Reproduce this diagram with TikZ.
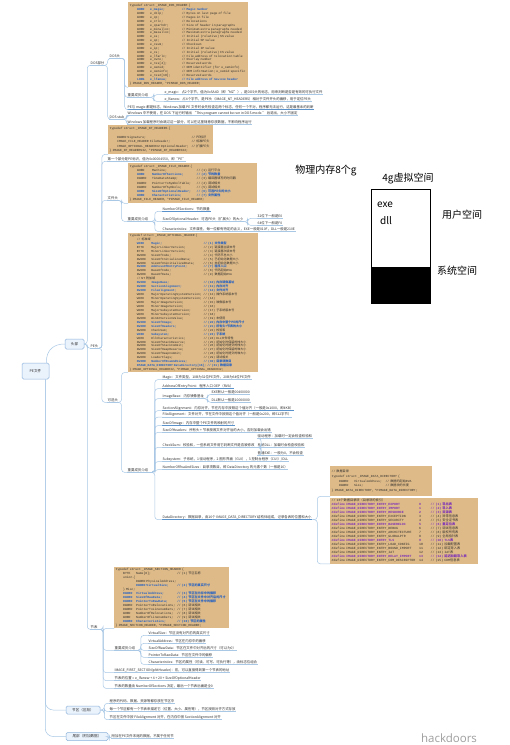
\documentclass[tikz,border=0pt]{standalone}
\usepackage{fontspec}
\setmainfont{Noto Sans CJK SC}
\setmonofont{Liberation Mono}
\newfontfamily\zhfont{Noto Sans CJK SC}
\newfontfamily\markfont{Open Sans}

\definecolor{linkc}{HTML}{A9C8E6}
\definecolor{linkd}{HTML}{5A92CC}
\definecolor{codefill}{HTML}{DEBA88}
\definecolor{cblue}{HTML}{1F5FC4}
\definecolor{cpurple}{HTML}{7A2FB8}
\definecolor{ctext}{HTML}{2E2E2E}
\definecolor{rootfill}{HTML}{EAF2FC}
\definecolor{rootdraw}{HTML}{8DB3DB}

% code listing helpers
\newcommand\ZH[1]{{\zhfont #1}}
\newcommand\HLB{\color{cblue}\bfseries}
\newcommand\HLP{\color{cpurple}\bfseries}
\newcommand\cwA{4.2em}
\newcommand\cwB{10.2em}
\newcommand\CDL[3]{\mbox{\hspace*{2.4em}\makebox[\cwA][l]{#1}\makebox[\cwB][l]{#2}#3}}
\newcommand\CDN[2]{\mbox{\hspace*{2.4em}\makebox[\cwA][l]{#1}#2}}
\newcommand\CDW[2]{\mbox{\hspace*{2.4em}#1 #2}}
\newcommand\CDD[3]{\mbox{\#define \makebox[22.8em][l]{#1}\makebox[3.6em][l]{#2}#3}}

\tikzset{
  conn/.style={draw=linkc, line width=0.5pt, rounded corners=3pt},
  uline/.style={draw=linkc, line width=0.5pt},
  ulinedark/.style={draw=linkd, line width=0.7pt},
  topic/.style={font=\fontsize{3.4}{4}\selectfont, text=ctext, inner xsep=0.5pt, inner ysep=0.6pt, anchor=west},
  mainbox/.style={draw=rootdraw, fill=rootfill, rounded corners=1.5pt, line width=0.5pt,
    font=\fontsize{3.6}{4}\selectfont, text=ctext, inner sep=0pt},
  codebox/.style={fill=codefill, anchor=north west, align=left, inner xsep=1.5pt, inner ysep=1pt, text=ctext},
  bigtext/.style={font=\fontsize{10}{12}\selectfont, text=black, inner sep=0pt},
}

% topic with underline, and elbow connector between topics
\newcommand\TP[5][uline]{\node[topic] (#2) at (#3,#4) {#5};\draw[#1] (#2.south west) -- (#2.south east);}
\newcommand\LK[3]{\draw[conn] (#1) -- ++(#3,0) |- (#2);}

\begin{document}
\catcode`\_=12
\begin{tikzpicture}[x=1pt,y=-1pt]
\fill[white] (0,0) rectangle (510,745);
\useasboundingbox (0,0) rectangle (510,745);

% ---------- main branches ----------
\node[mainbox, minimum width=27pt, minimum height=16pt] (root) at (35.5,371) {PE文件};
\node[mainbox, minimum width=19pt, minimum height=10pt] (head) at (74.5,344) {头部};
\node[mainbox, minimum width=34pt, minimum height=8pt] (sec) at (83,710) {节区（区段）};
\node[mainbox, minimum width=42pt, minimum height=8pt] (tail) at (87,736.5) {尾部（附加数据）};
\draw[conn] ([xshift=-3pt]root.north east) .. controls +(0,-14) and +(-10,0) .. (head.west);
\draw[conn, rounded corners=8pt] ([xshift=-4pt]root.south east) |- (sec.west);
\draw[conn, rounded corners=8pt] ([xshift=-4pt]root.south east) |- (tail.west);

\TP{dospart}{90}{63}{DOS部分}
\TP{pehead}{90}{346}{PE头}
\TP{sectab}{90}{627}{节表}
\LK{head.east}{dospart.south west}{3}
\LK{head.east}{pehead.south west}{3}
\LK{head.east}{sectab.south west}{3}

% ---------- DOS part ----------
\TP{doshdr}{109}{56}{DOS头}
\TP{stub}{109}{117}{DOS stub}
\LK{dospart.south east}{doshdr.south west}{2.5}
\LK{dospart.south east}{stub.south west}{2.5}

\renewcommand\cwA{4.2em}\renewcommand\cwB{10.2em}
\node[codebox, text width=117pt, minimum height=85pt, font=\ttfamily\fontsize{3.1}{3.86}\selectfont] (dosbox) at (128,2) {%
typedef struct _IMAGE_DOS_HEADER \{\\
{\HLB\CDL{WORD}{e_magic;}{// Magic number}}\\
\CDL{WORD}{e_cblp;}{// Bytes on last page of file}\\
\CDL{WORD}{e_cp;}{// Pages in file}\\
\CDL{WORD}{e_crlc;}{// Relocations}\\
\CDL{WORD}{e_cparhdr;}{// Size of header in paragraphs}\\
\CDL{WORD}{e_minalloc;}{// Minimum extra paragraphs needed}\\
\CDL{WORD}{e_maxalloc;}{// Maximum extra paragraphs needed}\\
\CDL{WORD}{e_ss;}{// Initial (relative) SS value}\\
\CDL{WORD}{e_sp;}{// Initial SP value}\\
\CDL{WORD}{e_csum;}{// Checksum}\\
\CDL{WORD}{e_ip;}{// Initial IP value}\\
\CDL{WORD}{e_cs;}{// Initial (relative) CS value}\\
\CDL{WORD}{e_lfarlc;}{// File address of relocation table}\\
\CDL{WORD}{e_ovno;}{// Overlay number}\\
\CDL{WORD}{e_res[4];}{// Reserved words}\\
\CDL{WORD}{e_oemid;}{// OEM identifier (for e_oeminfo)}\\
\CDL{WORD}{e_oeminfo;}{// OEM information; e_oemid specific}\\
\CDL{WORD}{e_res2[10];}{// Reserved words}\\
{\HLB\CDL{LONG}{e_lfanew;}{// File address of new exe header}}\\
\} IMAGE_DOS_HEADER, *PIMAGE_DOS_HEADER;};

\TP{dosimp}{127}{95}{重要成员介绍}
\TP[ulinedark]{dosnote}{127}{107}{PE与 magic 都是标志，Windows 加载 PE 文件时会先检查这两个标志，任何一个不对，程序都无法运行，这是最基本的判断}
\LK{doshdr.south east}{dosbox.south west}{4}
\LK{doshdr.south east}{dosimp.south west}{4}
\LK{doshdr.south east}{dosnote.south west}{4}

\TP{emagic}{164}{92}{e_magic：占2个字节，值为0x5A4D（即“MZ”），是DOS头的标志，用来判断是否是有效的可执行文件}
\TP{elfanew}{164}{99}{e_lfanew：占4个字节，是PE头（IMAGE_NT_HEADERS）相对于文件开头的偏移，用于定位PE头}
\LK{dosimp.south east}{emagic.south west}{5}
\LK{dosimp.south east}{elfanew.south west}{5}

\TP{stubA}{127}{113}{Windows 中不使用，在 DOS 下运行时输出 “This program cannot be run in DOS mode.” 后退出，大小不固定}
\TP{stubB}{127}{122}{Windows 加载程序时会跳过这一部分，可以在这里随意存放数据，不影响程序运行}
\LK{stub.south east}{stubA.south west}{1.5}
\LK{stub.south east}{stubB.south west}{1.5}

% ---------- PE header ----------
\renewcommand\cwA{24em}
\node[codebox, text width=102pt, minimum height=29pt, font=\ttfamily\fontsize{3.1}{4.4}\selectfont] (ntbox) at (108,125) {%
typedef struct _IMAGE_NT_HEADERS \{\\
\mbox{}\\
\CDN{DWORD Signature;}{// \ZH{PE标识}}\\
\CDN{IMAGE_FILE_HEADER FileHeader;}{// \ZH{标准PE头}}\\
\CDN{IMAGE_OPTIONAL_HEADER32 OptionalHeader;}{// \ZH{扩展PE头}}\\
\} IMAGE_NT_HEADERS32, *PIMAGE_NT_HEADERS32;};

\TP{ntsig}{107}{159}{第一个部分是PE标识，值为0x00004550，即“PE”}
\TP{filehdr}{107}{198}{文件头}
\TP{opthdr}{107}{400}{可选头}
\LK{pehead.south east}{ntbox.south west}{3}
\LK{pehead.south east}{ntsig.south west}{3}
\LK{pehead.south east}{filehdr.south west}{3}
\LK{pehead.south east}{opthdr.south west}{3}

% file header
\renewcommand\cwA{4.8em}\renewcommand\cwB{14.4em}
\node[codebox, text width=126pt, minimum height=40pt, font=\ttfamily\fontsize{3.1}{4.2}\selectfont] (filebox) at (128,163) {%
typedef struct _IMAGE_FILE_HEADER \{\\
\CDL{WORD}{Machine;}{// (1) \ZH{运行平台}}\\
{\HLB\CDL{WORD}{NumberOfSections;}{// (2) \ZH{节的数量}}}\\
\CDL{DWORD}{TimeDateStamp;}{// (3) \ZH{编译器填写的时间戳}}\\
\CDL{DWORD}{PointerToSymbolTable;}{// (4) \ZH{调试相关}}\\
\CDL{DWORD}{NumberOfSymbols;}{// (5) \ZH{调试相关}}\\
{\HLB\CDL{WORD}{SizeOfOptionalHeader;}{// (6) \ZH{可选PE头的大小}}}\\
{\HLB\CDL{WORD}{Characteristics;}{// (7) \ZH{文件属性}}}\\
\} IMAGE_FILE_HEADER, *PIMAGE_FILE_HEADER;};

\TP{fileimp}{127}{219}{重要成员介绍}
\LK{filehdr.south east}{filebox.south west}{3}
\LK{filehdr.south east}{fileimp.south west}{3}

\TP[ulinedark]{nsec}{162}{209}{NumberOfSections：节的数量}
\TP{soh}{162}{219}{SizeOfOptionalHeader：可选PE头（扩展头）的大小}
\TP{chr}{162}{229}{Characteristics：文件属性，每一位都有特定的含义，EXE一般是010F，DLL一般是210E}
\LK{fileimp.south east}{nsec.south west}{6}
\LK{fileimp.south east}{soh.south west}{6}
\LK{fileimp.south east}{chr.south west}{6}
\TP{soh32}{257}{216}{32位下一般是E0}
\TP{soh64}{257}{223}{64位下一般是F0}
\LK{soh.south east}{soh32.south west}{4}
\LK{soh.south east}{soh64.south west}{4}

% optional header
\renewcommand\cwA{4.8em}\renewcommand\cwB{17.4em}
\node[codebox, text width=127pt, minimum height=139pt, font=\ttfamily\fontsize{3.0}{3.95}\selectfont] (optbox) at (128,233) {%
typedef struct _IMAGE_OPTIONAL_HEADER \{\\
\mbox{\hspace*{2.4em}// \ZH{标准域}}\\
{\HLB\CDL{WORD}{Magic;}{// (1) \ZH{文件类型}}}\\
\CDL{BYTE}{MajorLinkerVersion;}{// (2) \ZH{链接器主版本号}}\\
\CDL{BYTE}{MinorLinkerVersion;}{// (3) \ZH{链接器次版本号}}\\
\CDL{DWORD}{SizeOfCode;}{// (4) \ZH{代码节总大小}}\\
\CDL{DWORD}{SizeOfInitializedData;}{// (5) \ZH{已初始化数据大小}}\\
\CDL{DWORD}{SizeOfUninitializedData;}{// (6) \ZH{未初始化数据大小}}\\
{\HLB\CDL{DWORD}{AddressOfEntryPoint;}{// (7) \ZH{程序入口}}}\\
\CDL{DWORD}{BaseOfCode;}{// (8) \ZH{代码起始}RVA}\\
\CDL{DWORD}{BaseOfData;}{// (9) \ZH{数据起始}RVA}\\
\mbox{\hspace*{2.4em}// NT \ZH{附加域}}\\
{\HLB\CDL{DWORD}{ImageBase;}{// (10) \ZH{内存镜像基址}}}\\
{\HLB\CDL{DWORD}{SectionAlignment;}{// (11) \ZH{内存对齐}}}\\
{\HLB\CDL{DWORD}{FileAlignment;}{// (12) \ZH{文件对齐}}}\\
\CDL{WORD}{MajorOperatingSystemVersion;}{// (13) \ZH{操作系统版本号}}\\
\CDL{WORD}{MinorOperatingSystemVersion;}{// (14)}\\
\CDL{WORD}{MajorImageVersion;}{// (15) \ZH{映像版本号}}\\
\CDL{WORD}{MinorImageVersion;}{// (16)}\\
\CDL{WORD}{MajorSubsystemVersion;}{// (17) \ZH{子系统版本号}}\\
\CDL{WORD}{MinorSubsystemVersion;}{// (18)}\\
\CDL{DWORD}{Win32VersionValue;}{// (19) \ZH{未使用}}\\
{\HLB\CDL{DWORD}{SizeOfImage;}{// (20) \ZH{内存中整个PE的尺寸}}}\\
{\HLB\CDL{DWORD}{SizeOfHeaders;}{// (21) \ZH{所有头+节表的大小}}}\\
\CDL{DWORD}{CheckSum;}{// (22) \ZH{校验和}}\\
{\HLB\CDL{WORD}{Subsystem;}{// (23) \ZH{子系统}}}\\
\CDL{WORD}{DllCharacteristics;}{// (24) DLL\ZH{文件特性}}\\
\CDL{DWORD}{SizeOfStackReserve;}{// (25) \ZH{初始化时保留的栈大小}}\\
\CDL{DWORD}{SizeOfStackCommit;}{// (26) \ZH{初始化时提交的栈大小}}\\
\CDL{DWORD}{SizeOfHeapReserve;}{// (27) \ZH{初始化时保留的堆大小}}\\
\CDL{DWORD}{SizeOfHeapCommit;}{// (28) \ZH{初始化时提交的堆大小}}\\
\CDL{DWORD}{LoaderFlags;}{// (29) \ZH{调试相关}}\\
{\HLB\CDL{DWORD}{NumberOfRvaAndSizes;}{// (30) \ZH{目录项数目}}}\\
{\HLB\CDW{IMAGE_DATA_DIRECTORY DataDirectory[16];}{// (31) \ZH{数据目录}}}\\
\} IMAGE_OPTIONAL_HEADER32, *PIMAGE_OPTIONAL_HEADER32;};

\TP{optimp}{127}{470}{重要成员介绍}
\LK{opthdr.south east}{optbox.south west}{3}
\LK{opthdr.south east}{optimp.south west}{3}

\TP{o1}{162}{377}{Magic：文件类型，10B为32位PE文件，20B为64位PE文件}
\TP[ulinedark]{o2}{162}{386}{AddressOfEntryPoint：程序入口 OEP（RVA）}
\TP{o3}{162}{396}{ImageBase：内存镜像基址}
\TP[ulinedark]{o4}{162}{408}{SectionAlignment：内存对齐，节在内存中按照这个值对齐（一般是0x1000，即4KB）}
\TP{o5}{162}{414.5}{FileAlignment：文件对齐，节在文件中按照这个值对齐（一般是0x200，即512字节）}
\TP[ulinedark]{o6}{162}{423}{SizeOfImage：内存中整个PE文件的映射的尺寸}
\TP{o7}{162}{430}{SizeOfHeaders：所有头 + 节表按照文件对齐后的大小，否则加载会出错}
\TP{o8}{162}{445}{CheckSum：校验和，一些系统文件用它判断文件是否被修改}
\TP{o9}{162}{459}{Subsystem：子系统，1 驱动程序，2 图形界面（GUI），3 控制台程序（CUI）/DLL}
\TP{o10}{162}{467}{NumberOfRvaAndSizes：目录项数目，即 DataDirectory 的元素个数（一般是16）}
\TP[ulinedark]{o11}{162}{517}{DataDirectory：数据目录，由16个 IMAGE_DATA_DIRECTORY 结构体组成，记录各表的位置和大小}
\foreach \k in {o1,o2,o3,o4,o5,o6,o7,o8,o9,o10,o11} {\LK{optimp.south east}{\k.south west}{6}}

\TP{o3a}{211}{392}{EXE默认一般是00400000}
\TP{o3b}{211}{400}{DLL默认一般是10000000}
\LK{o3.south east}{o3a.south west}{3}
\LK{o3.south east}{o3b.south west}{3}

\TP{o8a}{257}{436}{驱动程序：加载时一定会检查校验和}
\TP{o8b}{257}{445}{系统DLL：加载时会检查校验和}
\TP{o8c}{257}{453}{普通EXE：一般为0，不会检查}
\LK{o8.south east}{o8a.south west}{6}
\LK{o8.south east}{o8b.south west}{6}
\LK{o8.south east}{o8c.south west}{6}

% data directory
\renewcommand\cwA{4.8em}\renewcommand\cwB{10.2em}
\node[codebox, text width=99pt, minimum height=30pt, font=\ttfamily\fontsize{3.1}{4.6}\selectfont] (ddbox) at (330,466) {%
// \ZH{数据目录}\\
typedef struct _IMAGE_DATA_DIRECTORY \{\\
\CDL{DWORD}{VirtualAddress;}{// \ZH{数据的起始}RVA}\\
\CDL{DWORD}{Size;}{// \ZH{数据块的长度}}\\
\} IMAGE_DATA_DIRECTORY, *PIMAGE_DATA_DIRECTORY;};

\node[codebox, text width=145pt, minimum height=65pt, font=\ttfamily\fontsize{3.2}{4.0}\selectfont] (dirbox) at (330,498) {%
// 16\ZH{个数据目录项（目录项的索引）}\\
{\HLP\CDD{IMAGE_DIRECTORY_ENTRY_EXPORT}{0}{// (1) \ZH{导出表}}}\\
{\HLP\CDD{IMAGE_DIRECTORY_ENTRY_IMPORT}{1}{// (2) \ZH{导入表}}}\\
{\HLP\CDD{IMAGE_DIRECTORY_ENTRY_RESOURCE}{2}{// (3) \ZH{资源表}}}\\
\CDD{IMAGE_DIRECTORY_ENTRY_EXCEPTION}{3}{// (4) \ZH{异常信息表}}\\
\CDD{IMAGE_DIRECTORY_ENTRY_SECURITY}{4}{// (5) \ZH{安全证书表}}\\
{\HLP\CDD{IMAGE_DIRECTORY_ENTRY_BASERELOC}{5}{// (6) \ZH{重定位表}}}\\
\CDD{IMAGE_DIRECTORY_ENTRY_DEBUG}{6}{// (7) \ZH{调试信息表}}\\
\CDD{IMAGE_DIRECTORY_ENTRY_ARCHITECTURE}{7}{// (8) \ZH{版权所有表}}\\
\CDD{IMAGE_DIRECTORY_ENTRY_GLOBALPTR}{8}{// (9) \ZH{全局指针表}}\\
{\HLP\CDD{IMAGE_DIRECTORY_ENTRY_TLS}{9}{// (10) TLS\ZH{表}}}\\
\CDD{IMAGE_DIRECTORY_ENTRY_LOAD_CONFIG}{10}{// (11) \ZH{加载配置表}}\\
\CDD{IMAGE_DIRECTORY_ENTRY_BOUND_IMPORT}{11}{// (12) \ZH{绑定导入表}}\\
\CDD{IMAGE_DIRECTORY_ENTRY_IAT}{12}{// (13) IAT\ZH{表}}\\
{\HLP\CDD{IMAGE_DIRECTORY_ENTRY_DELAY_IMPORT}{13}{// (14) \ZH{延迟加载导入表}}}\\
\CDD{IMAGE_DIRECTORY_ENTRY_COM_DESCRIPTOR}{14}{// (15) COM\ZH{信息表}}};
\LK{o11.south east}{ddbox.south west}{5}
\LK{o11.south east}{dirbox.south west}{5}

% ---------- section table ----------
\renewcommand\cwA{4.2em}\renewcommand\cwB{13.2em}
\node[codebox, text width=112pt, minimum height=61pt, font=\ttfamily\fontsize{3.1}{4.0}\selectfont] (secbox) at (114,567) {%
typedef struct _IMAGE_SECTION_HEADER \{\\
\CDL{BYTE}{Name[8];}{// (1) \ZH{节区名称}}\\
\CDL{union \{}{}{}\\
\CDL{}{DWORD PhysicalAddress;}{}\\
{\HLB\CDL{}{DWORD VirtualSize;}{// (2) \ZH{节区的真实尺寸}}}\\
\CDL{\} Misc;}{}{}\\
{\HLB\CDL{DWORD}{VirtualAddress;}{// (3) \ZH{节区在内存中的偏移}}}\\
{\HLB\CDL{DWORD}{SizeOfRawData;}{// (4) \ZH{节区在文件中对齐后的尺寸}}}\\
{\HLB\CDL{DWORD}{PointerToRawData;}{// (5) \ZH{节区在文件中的偏移}}}\\
\CDL{DWORD}{PointerToRelocations;}{// (6) \ZH{调试相关}}\\
\CDL{DWORD}{PointerToLinenumbers;}{// (7) \ZH{调试相关}}\\
\CDL{WORD}{NumberOfRelocations;}{// (8) \ZH{调试相关}}\\
\CDL{WORD}{NumberOfLinenumbers;}{// (9) \ZH{调试相关}}\\
{\HLB\CDL{DWORD}{Characteristics;}{// (10) \ZH{节区的属性}}}\\
\} IMAGE_SECTION_HEADER, *PIMAGE_SECTION_HEADER;};

\TP{secimp}{114}{648}{重要成员介绍}
\TP{secf}{114}{670}{IMAGE_FIRST_SECTION(pNtHeader)：宏，可以直接得到第一个节表的地址}
\TP{secpos}{114}{678}{节表的位置 = e_lfanew + 4 + 20 + SizeOfOptionalHeader}
\TP{secnum}{114}{686}{节表的数量由 NumberOfSections 决定，最后一个节表后面是全0}
\LK{sectab.south east}{secbox.south west}{5}
\foreach \k in {secimp,secf,secpos,secnum} {\LK{sectab.south east}{\k.south west}{5}}

\TP{s1}{148}{633}{VirtualSize：节区没有对齐前的真实尺寸}
\TP{s2}{148}{641}{VirtualAddress：节区在内存中的偏移}
\TP{s3}{148}{648}{SizeOfRawData：节区在文件中对齐后的尺寸（可以为0）}
\TP{s4}{148}{655}{PointerToRawData：节区在文件中的偏移}
\TP{s5}{148}{662}{Characteristics：节区的属性（可读、可写、可执行等），由标志位组合}
\foreach \k in {s1,s2,s3,s4,s5} {\LK{secimp.south east}{\k.south west}{5}}

% ---------- sections and trailing data ----------
\TP{sc1}{109}{701}{程序的代码、数据、资源等都存放在节区中}
\TP{sc2}{109}{709}{每一个节区都有一个节表来描述它（位置、大小、属性等），节区按照对齐方式存放}
\TP{sc3}{109}{717}{节区在文件中按 FileAlignment 对齐，在内存中按 SectionAlignment 对齐}
\foreach \k in {sc1,sc2,sc3} {\LK{sec.east}{\k.south west}{4}}

\TP{tl1}{111}{736}{附加在PE文件末尾的数据，不属于任何节}
\LK{tail.east}{tl1.south west}{1}

% ---------- memory layout sketch ----------
\node[bigtext] (phys) at (326,171) {物理内存8个g};
\node[bigtext] (virt) at (408,179) {4g虚拟空间};
\node[draw=black, line width=1pt, minimum width=59pt, minimum height=114pt, anchor=north west, inner sep=0pt] (vspace) at (371,189) {};
\node[fill=black, draw=black, line width=1pt, minimum width=59pt, minimum height=36pt, anchor=south west, inner sep=0pt] (kspace) at (vspace.south west) {};
\node[bigtext] (exe) at (385,205) {exe};
\node[bigtext] (dll) at (386,221) {dll};
\node[bigtext] (user) at (462,215) {用户空间};
\node[bigtext] (sys) at (457,271) {系统空间};

% watermark
\node[font=\markfont\fontsize{11.5}{13}\selectfont, text=black!38, inner sep=0pt] (mark) at (449,738) {hackdoors};
\end{tikzpicture}
\end{document}
